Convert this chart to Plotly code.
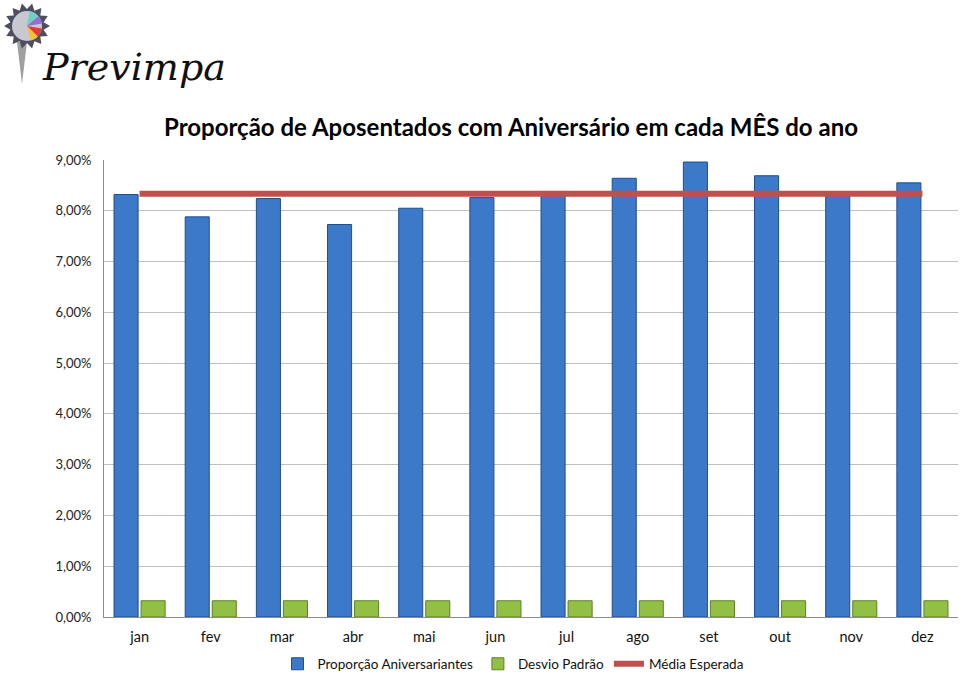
import math
import plotly.graph_objects as go

months = ["jan", "fev", "mar", "abr", "mai", "jun", "jul", "ago", "set", "out", "nov", "dez"]
proporcao = [8.32, 7.88, 8.24, 7.73, 8.05, 8.26, 8.38, 8.64, 8.96, 8.69, 8.30, 8.55]
desvio = [0.32] * 12
media = [8.333] * 12
y_ticks = [0, 1, 2, 3, 4, 5, 6, 7, 8, 9]

fig = go.Figure()
fig.add_trace(go.Bar(
    x=months, y=[v / 100 for v in proporcao], name="Proporção Aniversariantes",
    marker=dict(color="#3C79C8", line=dict(color="#1F4E8C", width=1)),
))
fig.add_trace(go.Bar(
    x=months, y=[v / 100 for v in desvio], name="Desvio Padrão",
    marker=dict(color="#92C044", line=dict(color="#5E7F2A", width=1)),
))
fig.add_trace(go.Scatter(
    x=months, y=[v / 100 for v in media], name="Média Esperada", mode="lines",
    line=dict(color="#C0504D", width=6),
))

W, H = 960, 674
L, R, T, B = 104, 2, 160, 57
PW, PH = W - L - R, H - T - B

# pixel -> paper (plot area) coordinates, for the logo decoration
def px(x):
    return (x - L) / PW
def py(y):
    return (H - B - y) / PH

# gray spike
fig.add_shape(type="path", xref="paper", yref="paper",
              path=f"M {px(17)},{py(42)} L {px(22)},{py(84)} L {px(27)},{py(42)} Z",
              fillcolor="#A0A0A0", line=dict(width=0), layer="above")
# serrated star
cx, cy = 27, 26
pts = []
n = 14
for i in range(2 * n):
    r = 23 if i % 2 == 0 else 17
    a = math.pi * i / n
    pts.append((px(cx + r * math.cos(a)), py(cy + r * math.sin(a))))
path = "M " + " L ".join(f"{x},{y}" for x, y in pts) + " Z"
fig.add_shape(type="path", xref="paper", yref="paper", path=path,
              fillcolor="#4E4E62", line=dict(width=0), layer="above")
fig.add_shape(type="circle", xref="paper", yref="paper",
              x0=px(cx - 15), x1=px(cx + 15), y0=py(cy + 15), y1=py(cy - 15),
              fillcolor="#C8C8D0", line=dict(width=0), layer="above")
wedges = [("#6FD0C8", -80, -10), ("#E03A3A", 10, 45), ("#F2C230", 45, 75), ("#9A6BD0", -40, -10)]
for col, a0, a1 in wedges:
    p = [(px(cx), py(cy))]
    for k in range(7):
        a = math.radians(a0 + (a1 - a0) * k / 6)
        p.append((px(cx + 15 * math.cos(a)), py(cy + 15 * math.sin(a))))
    fig.add_shape(type="path", xref="paper", yref="paper",
                  path="M " + " L ".join(f"{x},{y}" for x, y in p) + " Z",
                  fillcolor=col, line=dict(width=0), layer="above")

fig.add_annotation(text="<i>Previmpa</i>", xref="paper", yref="paper",
                   x=px(40), y=py(67), xanchor="left", yanchor="middle", showarrow=False,
                   font=dict(family="DejaVu Serif, Liberation Serif, serif", size=38, color="#111111"))

fig.update_layout(
    width=W, height=H,
    margin=dict(l=L, r=R, t=T, b=B, autoexpand=False),
    paper_bgcolor="white", plot_bgcolor="white",
    separators=",.",
    barmode="group", bargap=0.24, bargroupgap=0.11,
    title=dict(text="<b>Proporção de Aposentados com Aniversário em cada MÊS do ano</b>",
               x=511 / W, xanchor="center", xref="container",
               y=1 - 128 / H, yanchor="middle", yref="container",
               font=dict(family="Lato, Open Sans, sans-serif", size=24, color="#000000")),
    font=dict(family="Lato, Open Sans, sans-serif", size=14, color="#111111"),
    showlegend=True,
    legend=dict(orientation="h", xref="container", yref="container",
                x=513 / W, xanchor="center", y=(H - 664) / H, yanchor="middle",
                font=dict(size=13.5, color="#111111"), traceorder="normal",
                itemwidth=30),
    xaxis=dict(showline=True, linecolor="#8C8C8C", linewidth=1, ticks="",
               tickfont=dict(size=14.5), showgrid=False, ticklabelstandoff=7),
    yaxis=dict(range=[0, 0.09], tickvals=[v / 100 for v in y_ticks], tickformat=".2%",
               showline=True, linecolor="#8C8C8C", linewidth=1,
               gridcolor="#BFBFBF", gridwidth=1, ticks="",
               tickfont=dict(size=13, color="#222222"), zeroline=False, ticklabelstandoff=9),
)

fig.write_html("out.html", config={"displayModeBar": False},
               post_script="document.body.style.margin='0';")
